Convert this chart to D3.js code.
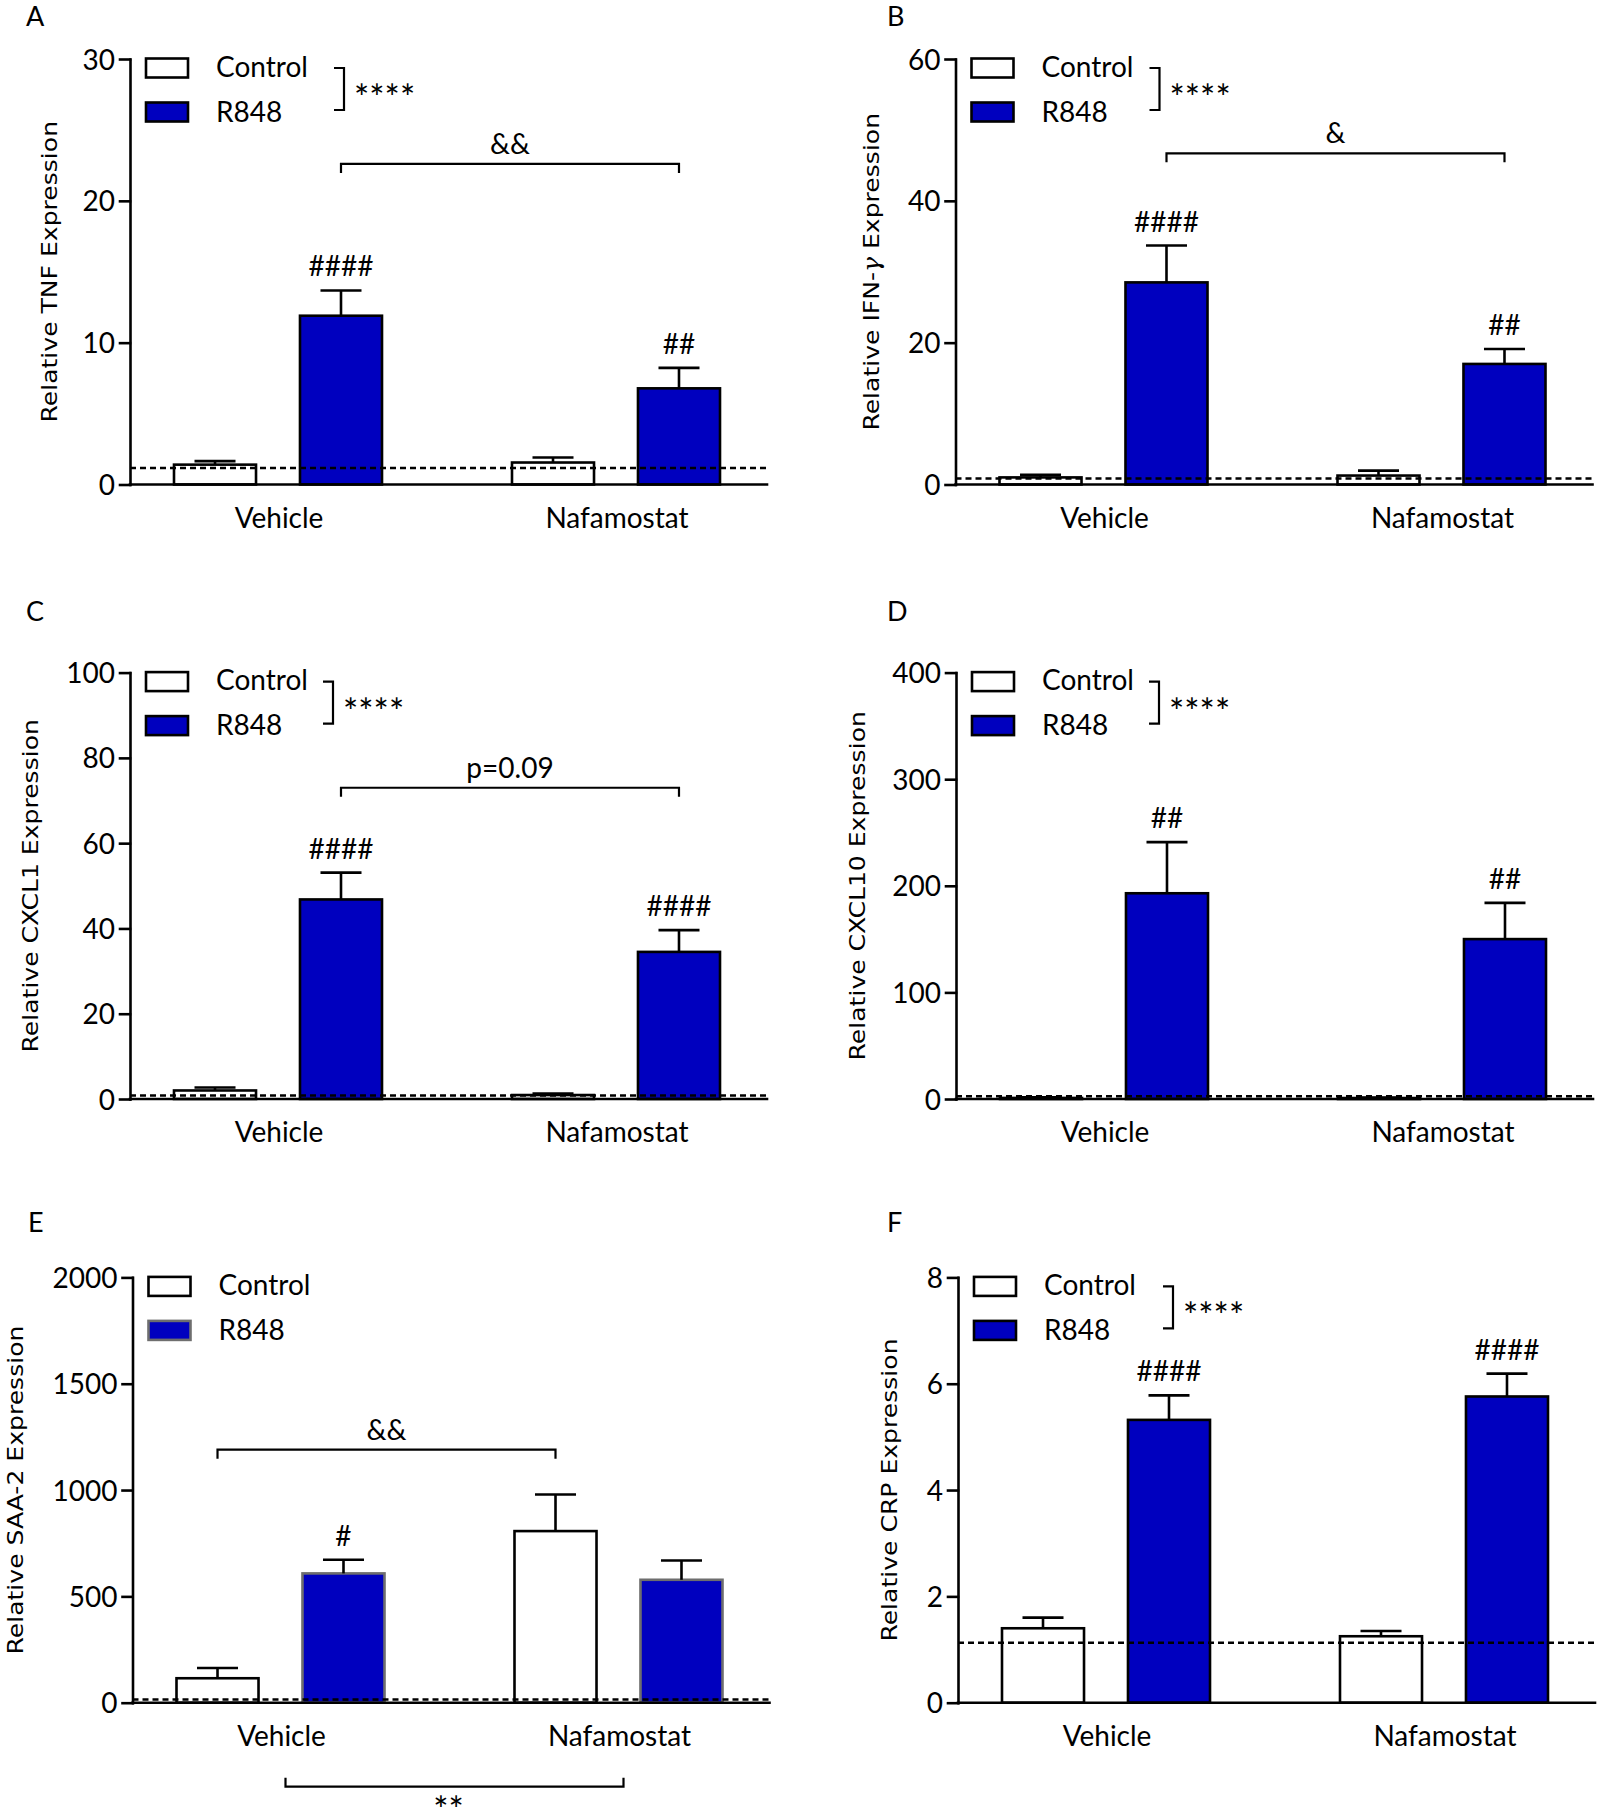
<!DOCTYPE html>
<html>
<head>
<meta charset="utf-8">
<script src="https://cdn.jsdelivr.net/npm/d3@7"></script>
<style>
  body { margin: 0; background: #fff; }
  svg { display: block; }
</style>
</head>
<body>
<div class="chart"></div>
<script>
// ---- data ----
const groups = ["Vehicle", "Nafamostat"];
const series = ["Control", "R848"];
const panelLetters = ["A", "B", "C", "D", "E", "F"];
// y titles split around the greek letter: [before, greek, after]
const yTitles = [
  ["Relative TNF Expression", "", ""],
  ["Relative IFN-", "\u03B3", " Expression"],
  ["Relative CXCL1 Expression", "", ""],
  ["Relative CXCL10 Expression", "", ""],
  ["Relative SAA-2 Expression", "", ""],
  ["Relative CRP Expression", "", ""]
];
const yMax = [30, 60, 100, 400, 2000, 8];
const yTicks = [
  [0, 10, 20, 30],
  [0, 20, 40, 60],
  [0, 20, 40, 60, 80, 100],
  [0, 100, 200, 300, 400],
  [0, 500, 1000, 1500, 2000],
  [0, 2, 4, 6, 8]
];
// order: Control/Vehicle, R848/Vehicle, Control/Nafamostat, R848/Nafamostat
const meanTNF = [1.40, 11.9, 1.55, 6.78];
const semTNF = [0.25, 1.78, 0.35, 1.44];
const meanIFNG = [1.0, 28.5, 1.26, 17.0];
const semIFNG = [0.36, 5.2, 0.70, 2.1];
const meanCXCL1 = [2.0, 46.8, 0.93, 34.5];
const semCXCL1 = [0.68, 6.3, 0.33, 5.1];
const meanCXCL10 = [1.0, 193, 0.9, 150];
const semCXCL10 = [0.5, 48, 0.4, 34];
const meanSAA2 = [115, 608, 807, 578];
const semSAA2 = [48, 64, 172, 91];
const meanCRP = [1.40, 5.32, 1.25, 5.76];
const semCRP = [0.20, 0.46, 0.10, 0.43];
const means = [meanTNF, meanIFNG, meanCXCL1, meanCXCL10, meanSAA2, meanCRP];
const sems = [semTNF, semIFNG, semCXCL1, semCXCL10, semSAA2, semCRP];
// dotted reference line (control level)
const refLevel = [1.17, 0.86, 0.8, 2.5, 15, 1.13];
// marks above the R848 bars (Vehicle, Nafamostat)
const hashMarks = [["####", "##"], ["####", "##"], ["####", "####"], ["##", "##"], ["#", ""], ["####", "####"]];
// legend significance (Control vs R848)
const legendStars = ["****", "****", "****", "****", "", "****"];
// brackets between bars: [panel, series, label]
const comparisons = [
  [0, "R848", "&&"],
  [1, "R848", "&"],
  [2, "R848", "p=0.09"],
  [4, "Control", "&&"]
];

// ---- layout ----
const conf = {
  axisX: [130, 955.5, 130, 956, 132.5, 958],
  rowTop: [59, 672.6, 1277.4],
  rowBottom: [484.5, 1099, 1702.7],
  axisW: 637,
  titleX: [56.5, 879, 38, 865, 23, 897],
  letterPos: [[26, 25.5], [887, 25.5], [26, 621], [887, 621], [28, 1232], [887, 1232]],
  bracketRight: [214, 204, 203, 203, 0, 215],
  compLevel: [22.6, 46.7, 73, 0, 1190, 0],
  blue: "#0000bf",
  lw: 2.6,
  font: "Lato, 'Open Sans', sans-serif"
};

const svg = d3.select('.chart').append('svg')
  .attr('width', 1600)
  .attr('height', 1808)
  .attr('viewBox', '0 0 1600 1808')
  .attr('font-family', conf.font);

function drawPanel(i) {
  const row = Math.floor(i / 2);
  const x0 = conf.axisX[i];
  const yTop = conf.rowTop[row];
  const yBot = conf.rowBottom[row];
  const g = svg.append('g').attr('class', 'panel panel-' + panelLetters[i]);
  const r848Stroke = i === 4 ? "#6e6e6e" : "#000";

  const y = d3.scaleLinear().domain([0, yMax[i]]).range([yBot, yTop]);
  const xg = d3.scaleBand().domain(groups).range([x0 + 44, x0 + 590]).paddingInner(0.3846);
  const xs = d3.scaleBand().domain(series).range([0, xg.bandwidth()]).paddingInner(0.349);
  const cx = (grp, s) => xg(grp) + xs(s) + xs.bandwidth() / 2;

  // bars
  const bars = [];
  groups.forEach((grp, gi) => {
    series.forEach((s, si) => {
      const k = gi * 2 + si;
      bars.push({ grp: grp, s: s, mean: means[i][k], sem: sems[i][k] });
    });
  });
  g.append('g').selectAll('rect')
    .data(bars)
    .enter()
    .append('rect')
    .attr('x', d => xg(d.grp) + xs(d.s))
    .attr('y', d => y(d.mean))
    .attr('width', xs.bandwidth())
    .attr('height', d => y(0) - y(d.mean))
    .attr('fill', d => d.s === "R848" ? conf.blue : "#fff")
    .attr('stroke', d => d.s === "R848" ? r848Stroke : "#000")
    .attr('stroke-width', conf.lw);

  // error bars (upper only)
  const err = g.append('g').attr('stroke', '#000').attr('stroke-width', conf.lw);
  err.selectAll('line.v')
    .data(bars)
    .enter()
    .append('line')
    .attr('class', 'v')
    .attr('x1', d => cx(d.grp, d.s))
    .attr('x2', d => cx(d.grp, d.s))
    .attr('y1', d => y(d.mean))
    .attr('y2', d => y(d.mean + d.sem));
  err.selectAll('line.cap')
    .data(bars)
    .enter()
    .append('line')
    .attr('class', 'cap')
    .attr('x1', d => cx(d.grp, d.s) - xs.bandwidth() / 4)
    .attr('x2', d => cx(d.grp, d.s) + xs.bandwidth() / 4)
    .attr('y1', d => y(d.mean + d.sem))
    .attr('y2', d => y(d.mean + d.sem));

  // #### marks
  g.append('g').selectAll('text')
    .data(bars.filter(d => d.s === "R848"))
    .enter()
    .append('text')
    .attr('x', d => cx(d.grp, d.s))
    .attr('y', d => y(d.mean + d.sem) - 14)
    .attr('text-anchor', 'middle')
    .attr('font-size', 28)
    .text((d, k) => hashMarks[i][k]);

  // dotted reference line
  g.append('line')
    .attr('x1', x0)
    .attr('x2', x0 + conf.axisW)
    .attr('y1', y(refLevel[i]))
    .attr('y2', y(refLevel[i]))
    .attr('stroke', '#000')
    .attr('stroke-width', 2.5)
    .attr('stroke-dasharray', '6,4');

  // y axis
  const yAxis = d3.axisLeft(y)
    .tickValues(yTicks[i])
    .tickFormat(d3.format('d'))
    .tickSize(10)
    .tickSizeOuter(0)
    .tickPadding(5);
  const ya = g.append('g')
    .attr('transform', `translate(${x0},0)`)
    .call(yAxis)
    .attr('font-size', 28)
    .attr('font-family', conf.font);
  ya.selectAll('path, line').attr('stroke-width', conf.lw).attr('stroke-linecap', 'square');
  ya.selectAll('text').attr('dy', '0.36em');

  // x axis line
  g.append('line')
    .attr('x1', x0)
    .attr('x2', x0 + conf.axisW)
    .attr('y1', yBot)
    .attr('y2', yBot)
    .attr('stroke', '#000')
    .attr('stroke-width', conf.lw)
    .attr('stroke-linecap', 'square');

  // category labels
  g.append('g').selectAll('text')
    .data(groups)
    .enter()
    .append('text')
    .attr('x', d => xg(d) + xg.bandwidth() / 2 + 1)
    .attr('y', yBot + 43)
    .attr('text-anchor', 'middle')
    .attr('font-size', 28)
    .text(d => d);

  // y title
  const yt = g.append('text')
    .attr('transform', `translate(${conf.titleX[i]},${(yTop + yBot) / 2}) rotate(-90) scale(1.14,1)`)
    .attr('text-anchor', 'middle')
    .attr('font-family', '"DejaVu Sans", sans-serif')
    .attr('font-size', 22);
  yt.append('tspan').text(yTitles[i][0]);
  if (yTitles[i][1]) {
    yt.append('tspan')
      .attr('font-family', '"DejaVu Serif", serif')
      .attr('font-style', 'italic')
      .text(yTitles[i][1]);
    yt.append('tspan').text(yTitles[i][2]);
  }

  // panel letter
  g.append('text')
    .attr('x', conf.letterPos[i][0])
    .attr('y', conf.letterPos[i][1])
    .attr('font-size', 27)
    .text(panelLetters[i]);

  // legend
  const lg = g.append('g').attr('class', 'legend');
  series.forEach((s, k) => {
    lg.append('rect')
      .attr('x', x0 + 16)
      .attr('y', yTop - 0.5 + k * 44)
      .attr('width', 42)
      .attr('height', 19)
      .attr('fill', s === "R848" ? conf.blue : "#fff")
      .attr('stroke', s === "R848" ? r848Stroke : "#000")
      .attr('stroke-width', conf.lw);
    lg.append('text')
      .attr('x', x0 + 86)
      .attr('y', yTop + 17.7 + k * 45)
      .attr('font-size', 28)
      .text(s);
  });
  if (legendStars[i]) {
    const bx = x0 + conf.bracketRight[i];
    lg.append('path')
      .attr('d', `M${bx - 10},${yTop + 9}H${bx}V${yTop + 51}H${bx - 10}`)
      .attr('fill', 'none')
      .attr('stroke', '#000')
      .attr('stroke-width', 2.2);
    lg.append('text')
      .attr('x', bx + 10)
      .attr('y', yTop + 52)
      .attr('font-size', 36)
      .text(legendStars[i]);
  }

  // comparison brackets
  comparisons.filter(c => c[0] === i).forEach(c => {
    const xa = cx(groups[0], c[1]);
    const xb = cx(groups[1], c[1]);
    const yb = y(conf.compLevel[i]);
    g.append('path')
      .attr('d', `M${xa},${yb + 9}V${yb}H${xb}V${yb + 9}`)
      .attr('fill', 'none')
      .attr('stroke', '#000')
      .attr('stroke-width', 2.2);
    g.append('text')
      .attr('x', (xa + xb) / 2)
      .attr('y', yb - 10)
      .attr('text-anchor', 'middle')
      .attr('font-size', 28)
      .text(c[2]);
  });

  // E: Vehicle vs Nafamostat bracket under the axis
  if (i === 4) {
    const xa = xg(groups[0]) + xg.bandwidth() / 2 + 5;
    const xb = xg(groups[1]) + xg.bandwidth() / 2 + 5;
    const yb = yBot + 84;
    g.append('path')
      .attr('d', `M${xa},${yb - 9}V${yb}H${xb}V${yb - 9}`)
      .attr('fill', 'none')
      .attr('stroke', '#000')
      .attr('stroke-width', 2.2);
    g.append('text')
      .attr('x', (xa + xb) / 2 - 6)
      .attr('y', yb + 36)
      .attr('text-anchor', 'middle')
      .attr('font-size', 36)
      .text("**");
  }
}

panelLetters.forEach((p, i) => drawPanel(i));
</script>
</body>
</html>
